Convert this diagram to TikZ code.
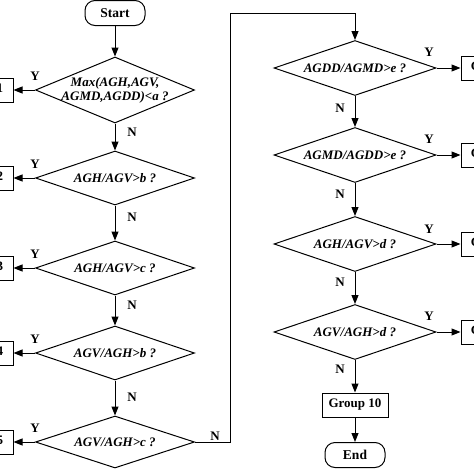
\documentclass[tikz,border=0pt]{standalone}
\usepackage{fontspec}
\setmainfont{Liberation Serif}
\usetikzlibrary{shapes.geometric,arrows.meta}
\tikzset{
  dec/.style={diamond,draw,line width=1pt,inner sep=0pt,shape aspect=2.9,minimum width=159pt,minimum height=54pt,font=\fontsize{13}{14}\selectfont\bfseries\itshape,align=center},
  decr/.style={dec,minimum width=162pt,minimum height=55pt},
  grp/.style={rectangle,draw,line width=1pt,minimum width=66pt,minimum height=24pt,inner sep=0pt,font=\fontsize{13}{14}\selectfont\bfseries},
  term/.style={rectangle,rounded corners=10pt,draw,line width=1pt,minimum width=60pt,minimum height=25pt,inner sep=0pt,font=\fontsize{13.5}{14}\selectfont\bfseries},
  arr/.style={line width=1pt,-{Triangle[length=9pt,width=7pt]}},
  lab/.style={font=\fontsize{13}{14}\selectfont\bfseries,inner sep=1pt}
}
\begin{document}
\begin{tikzpicture}[x=1pt,y=-1pt]
\useasboundingbox (0,0) rectangle (474,474);
\clip (0,0) rectangle (474,474);
% left column
\node[term] (start) at (115,13) {Start};
\node[dec,minimum height=66pt,shape aspect=2.4,inner xsep=-10pt] (d1) at (115,90) {Max(AGH,AGV,\\AGMD,AGDD)<a ?};
\node[dec] (d2) at (115,178) {AGH/AGV>b ?};
\node[dec] (d3) at (115,268) {AGH/AGV>c ?};
\node[dec] (d4) at (115,353) {AGV/AGH>b ?};
\node[dec,minimum height=52pt] (d5) at (115,442) {AGV/AGH>c ?};
\node[grp] (g1) at (-20,90) {Group 1};
\node[grp] (g2) at (-20,178) {Group 2};
\node[grp] (g3) at (-20,268) {Group 3};
\node[grp] (g4) at (-20,353) {Group 4};
\node[grp] (g5) at (-20,442) {Group 5};
% right column
\node[decr] (r1) at (355,68) {AGDD/AGMD>e ?};
\node[decr] (r2) at (355,155) {AGMD/AGDD>e ?};
\node[decr] (r3) at (355,244) {AGH/AGV>d ?};
\node[decr] (r4) at (355,332) {AGV/AGH>d ?};
\node[grp] (g10) at (355,405) {Group 10};
\node[term] (end) at (355,455) {End};
\node[grp] (g6) at (494,68) {Group 6};
\node[grp] (g7) at (494,155) {Group 7};
\node[grp] (g8) at (494,244) {Group 8};
\node[grp] (g9) at (494,332) {Group 9};
\coordinate (c1) at (230,442);
\coordinate (c2) at (230,13);
\coordinate (c3) at (355,13);
% connectors
\draw[arr] (start) -- (d1);
\draw[arr] (d1) -- (d2);
\draw[arr] (d2) -- (d3);
\draw[arr] (d3) -- (d4);
\draw[arr] (d4) -- (d5);
\draw[arr] (d1.west) -- (g1.east);
\draw[arr] (d2.west) -- (g2.east);
\draw[arr] (d3.west) -- (g3.east);
\draw[arr] (d4.west) -- (g4.east);
\draw[arr] (d5.west) -- (g5.east);
\draw[arr] (d5.east) -- (c1) -- (c2) -- (c3) -- (r1.north);
\draw[arr] (r1) -- (r2);
\draw[arr] (r2) -- (r3);
\draw[arr] (r3) -- (r4);
\draw[arr] (r4) -- (g10);
\draw[arr] (g10) -- (end);
\draw[arr] (r1.east) -- (g6.west);
\draw[arr] (r2.east) -- (g7.west);
\draw[arr] (r3.east) -- (g8.west);
\draw[arr] (r4.east) -- (g9.west);
% labels
\node[lab] (y1) at (35,76) {Y};
\node[lab] (y2) at (35,164) {Y};
\node[lab] (y3) at (35,254) {Y};
\node[lab] (y4) at (35,339) {Y};
\node[lab] (y5) at (35,428) {Y};
\node[lab] (n1) at (132,132) {N};
\node[lab] (n2) at (132,217) {N};
\node[lab] (n3) at (132,305) {N};
\node[lab] (n4) at (132,397) {N};
\node[lab] (n5) at (215,436) {N};
\node[lab] (y6) at (429,52) {Y};
\node[lab] (y7) at (429,139) {Y};
\node[lab] (y8) at (429,229) {Y};
\node[lab] (y9) at (429,316) {Y};
\node[lab] (n6) at (340,108) {N};
\node[lab] (n7) at (340,194) {N};
\node[lab] (n8) at (340,282) {N};
\node[lab] (n9) at (340,369) {N};
\end{tikzpicture}
\end{document}
